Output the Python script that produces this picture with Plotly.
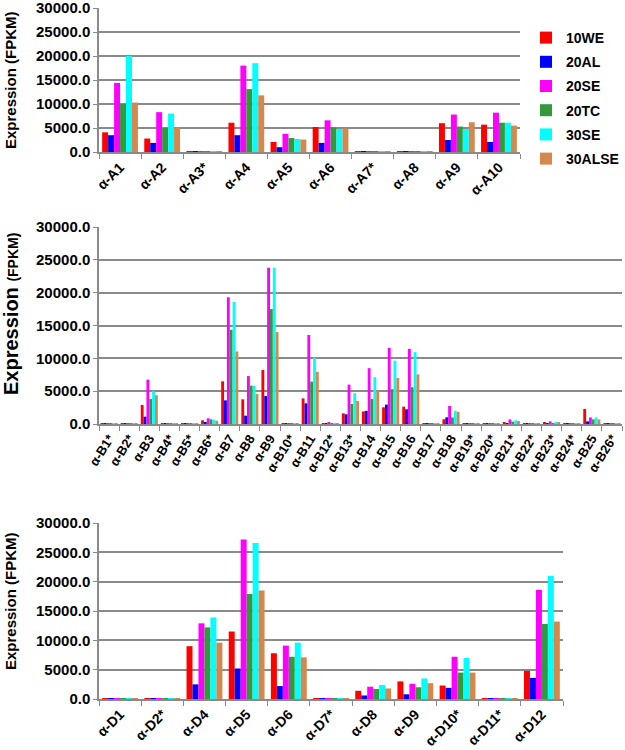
import plotly.graph_objects as go

series = ["10WE", "20AL", "20SE", "20TC", "30SE", "30ALSE"]
colors = ["#FF0000", "#0000FF", "#FF00FF", "#33993A", "#00FFFF", "#D4884E"]

# Panel A
cats_a = ["α-A1", "α-A2", "α-A3*", "α-A4", "α-A5", "α-A6", "α-A7*", "α-A8", "α-A9", "α-A10"]
a_10we = [4100, 2800, 150, 6100, 2100, 5200, 150, 150, 6000, 5700]
a_20al = [3500, 1900, 150, 3500, 1000, 1900, 150, 150, 2500, 2100]
a_20se = [14400, 8300, 150, 18000, 3800, 6600, 150, 150, 7800, 8200]
a_20tc = [10000, 5000, 150, 13100, 2900, 5100, 150, 150, 5300, 6100]
a_30se = [20000, 8000, 150, 18500, 2700, 4800, 150, 150, 4800, 6100]
a_30alse = [10300, 5100, 150, 11800, 2600, 4900, 150, 150, 6200, 5500]

# Panel B
cats_b = ["α-B1*", "α-B2*", "α-B3", "α-B4*", "α-B5*", "α-B6*", "α-B7", "α-B8", "α-B9",
          "α-B10*", "α-B11", "α-B12*", "α-B13*", "α-B14", "α-B15", "α-B16", "α-B17",
          "α-B18", "α-B19*", "α-B20*", "α-B21*", "α-B22*", "α-B23*", "α-B24*", "α-B25", "α-B26*"]
b_10we = [100, 100, 2900, 100, 100, 560, 6500, 3760, 8220, 100, 3900, 100, 1630, 1920, 2540, 2640, 100, 720, 100, 100, 300, 100, 250, 100, 2300, 100]
b_20al = [100, 100, 1120, 100, 100, 300, 3600, 1270, 4260, 100, 3150, 100, 1480, 2000, 2950, 2240, 100, 1020, 100, 100, 150, 100, 150, 100, 400, 100]
b_20se = [100, 100, 6760, 100, 100, 870, 19300, 7300, 23800, 100, 13550, 250, 6000, 8500, 11600, 11450, 100, 2740, 100, 100, 700, 100, 400, 100, 1000, 100]
b_20tc = [100, 100, 3800, 100, 100, 710, 14350, 5840, 17500, 100, 6450, 100, 3050, 3800, 5300, 5600, 100, 1000, 100, 100, 350, 100, 150, 100, 700, 100]
b_30se = [100, 100, 4980, 100, 100, 650, 18600, 5800, 23800, 100, 10100, 100, 4680, 7120, 9650, 10950, 100, 2000, 100, 100, 550, 100, 250, 100, 1000, 100]
b_30alse = [100, 100, 4370, 100, 100, 500, 11050, 4570, 14000, 100, 7950, 100, 3500, 5100, 7000, 7550, 100, 1850, 100, 100, 450, 100, 300, 100, 700, 100]

# Panel D
cats_d = ["α-D1", "α-D2*", "α-D4", "α-D5", "α-D6", "α-D7*", "α-D8", "α-D9", "α-D10*", "α-D11*", "α-D12"]
d_10we = [120, 100, 9000, 11500, 7800, 120, 1400, 3000, 2300, 100, 4800]
d_20al = [120, 100, 2500, 5200, 2200, 100, 600, 800, 1900, 100, 3600]
d_20se = [150, 100, 12900, 27200, 9100, 150, 2100, 2600, 7200, 120, 18600]
d_20tc = [120, 100, 12200, 17900, 7200, 120, 1700, 2000, 4500, 100, 12800]
d_30se = [150, 100, 13900, 26600, 9600, 120, 2400, 3500, 7000, 100, 21000]
d_30alse = [130, 100, 9600, 18500, 7100, 100, 1800, 2700, 4500, 100, 13200]

y_ticks = [0, 5000, 10000, 15000, 20000, 25000, 30000]

W, H = 625, 750
FONT = "Arial, Liberation Sans, sans-serif"

fig = go.Figure()

panels = [
    (cats_a, [a_10we, a_20al, a_20se, a_20tc, a_30se, a_30alse], "x", "y"),
    (cats_b, [b_10we, b_20al, b_20se, b_20tc, b_30se, b_30alse], "x2", "y2"),
    (cats_d, [d_10we, d_20al, d_20se, d_20tc, d_30se, d_30alse], "x3", "y3"),
]

for p, (cats, vals, xa, ya) in enumerate(panels):
    for name, v, c in zip(series, vals, colors):
        fig.add_trace(go.Bar(
            x=cats, y=v, name=name, xaxis=xa, yaxis=ya,
            marker=dict(color=c, line=dict(width=0)),
            legendgroup=name, showlegend=(p == 0),
        ))

def px_x(px):
    return px / W

def px_y(py):
    return 1 - py / H

def xaxis_style(size, angle):
    return dict(
        showgrid=False, showline=True, linecolor="#8a8a8a", linewidth=1.5,
        ticks="outside", tickcolor="#8a8a8a", ticklen=5, tickson="boundaries",
        tickfont=dict(family=FONT, size=size, color="black", weight="bold"),
        tickangle=angle, ticklabeloverflow="allow", fixedrange=True,
    )

yaxis_common = dict(
    range=[0, 30000], tickvals=y_ticks, tickformat=".1f",
    showgrid=True, gridcolor="#8a8a8a", gridwidth=1.5,
    showline=True, linecolor="#8a8a8a", linewidth=1.5,
    ticks="outside", tickcolor="#8a8a8a", ticklen=4,
    tickfont=dict(family=FONT, size=15, color="black", weight="bold"),
    ticklabeloverflow="allow",
    zeroline=False, fixedrange=True,
)

fig.update_layout(
    width=W, height=H,
    margin=dict(l=0, r=0, t=0, b=0, autoexpand=False),
    paper_bgcolor="white", plot_bgcolor="white",
    barmode="group",
    font=dict(family=FONT, color="black"),
    xaxis=dict(domain=[px_x(99), px_x(520)], anchor="y", **xaxis_style(14, -45)),
    yaxis=dict(domain=[px_y(152), px_y(8)], anchor="x", **yaxis_common),
    xaxis2=dict(domain=[px_x(99), px_x(622)], anchor="y2", **xaxis_style(13, -58)),
    yaxis2=dict(domain=[px_y(424), px_y(227)], anchor="x2", **yaxis_common),
    xaxis3=dict(domain=[px_x(99), px_x(563)], anchor="y3", **xaxis_style(14, -45)),
    yaxis3=dict(domain=[px_y(699), px_y(523)], anchor="x3", **yaxis_common),
    bargap=0.15,
    legend=dict(
        x=px_x(526), y=px_y(22), xanchor="left", yanchor="top",
        font=dict(family=FONT, size=14, color="black", weight="bold"),
        traceorder="grouped", tracegroupgap=3, itemwidth=30,
        bgcolor="rgba(0,0,0,0)",
    ),
    annotations=[
        dict(text="Expression (FPKM)", textangle=-90, xref="paper", yref="paper",
             x=px_x(10), y=px_y(80), xanchor="center", yanchor="middle", showarrow=False,
             font=dict(family=FONT, size=15, color="black", weight="bold")),
        dict(text="Expression <span style='font-size:14px'>(FPKM)</span>", textangle=-90,
             xref="paper", yref="paper",
             x=px_x(11), y=px_y(314), xanchor="center", yanchor="middle", showarrow=False,
             font=dict(family=FONT, size=20, color="black", weight="bold")),
        dict(text="Expression (FPKM)", textangle=-90, xref="paper", yref="paper",
             x=px_x(10), y=px_y(601), xanchor="center", yanchor="middle", showarrow=False,
             font=dict(family=FONT, size=15, color="black", weight="bold")),
    ],
)

fig.write_html(
    "out.html",
    config={"displayModeBar": False},
    post_script="document.body.style.margin='0';document.body.style.overflow='hidden';",
)
